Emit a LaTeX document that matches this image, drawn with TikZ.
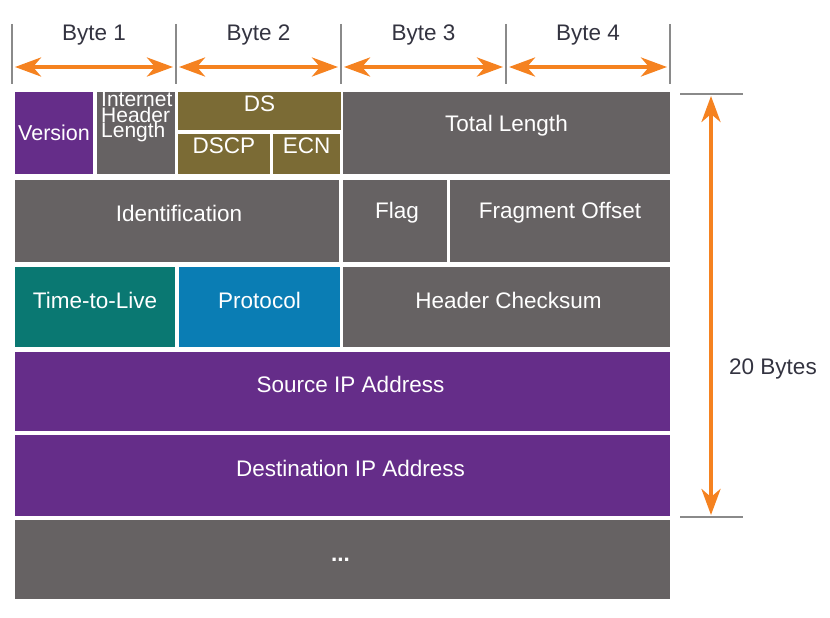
\documentclass[tikz,border=0pt]{standalone}
\usepackage{fontspec}
\setmainfont{Liberation Sans}
\usetikzlibrary{arrows.meta,calc}
\definecolor{fpurple}{HTML}{652D89}
\definecolor{fgray}{HTML}{666263}
\definecolor{folive}{HTML}{7B6B35}
\definecolor{fteal}{HTML}{0A7872}
\definecolor{fblue}{HTML}{0A7DB4}
\definecolor{forange}{HTML}{F58220}
\definecolor{ftick}{HTML}{8A8A8A}
\definecolor{ftext}{HTML}{333340}
\begin{document}
\begin{tikzpicture}[x=1pt,y=-1pt,
  field/.style={rectangle,draw=none,inner sep=0pt,fill=fgray},
  lbl/.style={inner sep=0pt,text=white,font=\fontsize{22.5}{25}\selectfont},
  hdr/.style={inner sep=0pt,text=ftext,font=\fontsize{22.5}{25}\selectfont},
  tick/.style={draw=ftick,line width=1.6pt},
  span/.style={draw=forange,line width=4pt,
    {Stealth[length=26pt,width=19pt,inset=8pt]}-{Stealth[length=26pt,width=19pt,inset=8pt]}}]
\useasboundingbox (0,0) rectangle (830,618);

% byte ruler along the top
\foreach \i/\x in {0/12,1/176,2/341,3/506,4/670}{
  \coordinate (ta\i) at (\x,24);
  \coordinate (tb\i) at (\x,84);
  \draw[tick] (ta\i) -- (tb\i);
  \coordinate (m\i) at (\x,67);
}
\foreach \a/\b/\n in {0/1/1,1/2/2,2/3/3,3/4/4}{
  \draw[span,shorten <=3pt,shorten >=3pt] (m\a) -- (m\b);
  \node[hdr] (byte\n) at ($(m\a)!0.5!(m\b)+(0,-32)$) {Byte \n};
}

% header fields
\node[field,fill=fpurple,minimum width=78pt,minimum height=82pt] (ver) at (54,133) {};
\node[field,minimum width=78pt,minimum height=82pt] (ihl) at (136,133) {};
\node[field,fill=folive,minimum width=163pt,minimum height=38pt] (ds) at (259.5,111) {};
\node[field,fill=folive,minimum width=92pt,minimum height=40pt] (dscp) at (224,154) {};
\node[field,fill=folive,minimum width=67pt,minimum height=40pt] (ecn) at (306.5,154) {};
\node[field,minimum width=327pt,minimum height=82pt] (tl) at (506.5,133) {};
\node[field,minimum width=324pt,minimum height=82pt] (ident) at (177,221) {};
\node[field,minimum width=104pt,minimum height=82pt] (flag) at (395,221) {};
\node[field,minimum width=220pt,minimum height=82pt] (fo) at (560,221) {};
\node[field,fill=fteal,minimum width=160pt,minimum height=80pt] (ttl) at (95,307) {};
\node[field,fill=fblue,minimum width=161pt,minimum height=80pt] (proto) at (259.5,307) {};
\node[field,minimum width=327pt,minimum height=80pt] (hc) at (506.5,307) {};
\node[field,fill=fpurple,minimum width=655pt,minimum height=79pt] (src) at (342.5,391.5) {};
\node[field,fill=fpurple,minimum width=655pt,minimum height=81pt] (dst) at (342.5,475.5) {};
\node[field,minimum width=655pt,minimum height=79pt] (more) at (342.5,559.5) {};

% field labels
\node[lbl,font=\fontsize{21.5}{24}\selectfont] at (ver.center) {Version};
\node[lbl,anchor=west,align=left,font=\fontsize{21}{15.5}\selectfont] at (101,117) {Internet\\Header\\Length};
\node[lbl,yshift=7pt] at (ds.center) {DS};
\node[lbl,yshift=8pt] at (dscp.center) {DSCP};
\node[lbl,yshift=8pt] at (ecn.center) {ECN};
\node[lbl,yshift=7pt] at (tl.center) {Total Length};
\node[lbl,yshift=8pt,xshift=2pt] at (ident.center) {Identification};
\node[lbl,yshift=8pt,xshift=2pt] at (flag.center) {Flag};
\node[lbl,yshift=8pt] at (fo.center) {Fragment Offset};
\node[lbl,yshift=7pt] at (ttl.center) {Time-to-Live};
\node[lbl,yshift=7pt] at (proto.center) {Protocol};
\node[lbl,yshift=7pt,xshift=2pt] at (hc.center) {Header Checksum};
\node[lbl,yshift=7pt,xshift=8pt] at (src.center) {Source IP Address};
\node[lbl,yshift=7pt,xshift=8pt] at (dst.center) {Destination IP Address};
\node[lbl,xshift=-2pt] at (more.center) {\bfseries ...};

% total header size on the right
\coordinate (ua) at (680,94);
\coordinate (ub) at (743,94);
\coordinate (la) at (680,517);
\coordinate (lb) at (743,517);
\draw[tick] (ua) -- (ub);
\draw[tick] (la) -- (lb);
\coordinate (vt) at (711,96);
\coordinate (vb) at (711,515);
\draw[span] (vt) -- (vb);
\node[hdr] (size) at (773,369) {20 Bytes};
\end{tikzpicture}
\end{document}
